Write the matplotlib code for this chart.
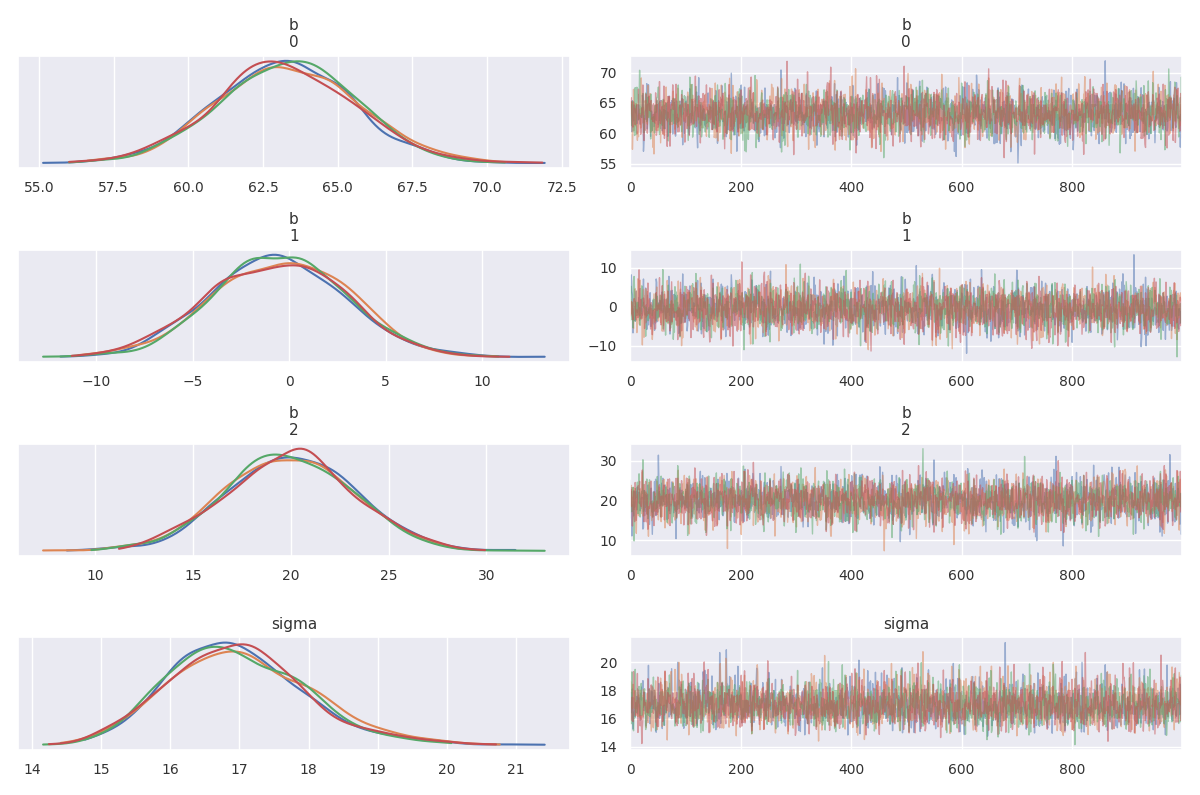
import numpy as np
import matplotlib
matplotlib.use("Agg")
import matplotlib.pyplot as plt
import seaborn as sns
from matplotlib.ticker import MultipleLocator

sns.set_theme(style="darkgrid")
plt.rcParams['font.family'] = ['DejaVu Sans']
plt.rcParams['text.color'] = '#333333'
plt.rcParams['xtick.color'] = '#333333'
plt.rcParams['ytick.color'] = '#333333'

var_titles = ["b\n0", "b\n1", "b\n2", "sigma"]
means = [63.3, -0.5, 20.0, 17.0]
sds = [2.3, 3.5, 3.3, 1.0]
trace_steps = [5, 10, 10, 2]
colors = ["#4c72b0", "#dd8452", "#55a868", "#c44e52"]
n_draws = 1000
n_chains = 4

rng = np.random.default_rng(1)
fig, axes = plt.subplots(4, 2, figsize=(12, 7.95), dpi=100)

def kde(x, grid):
    bw = 1.06 * x.std() * len(x) ** (-0.2)
    d = (grid[:, None] - x[None, :]) / bw
    return np.exp(-0.5 * d ** 2).sum(1) / (len(x) * bw * np.sqrt(2 * np.pi))

for i in range(4):
    axl, axr = axes[i]
    for c in range(n_chains):
        if i == 3:
            s = means[i] - 5 * sds[i] + rng.gamma(25, sds[i] / 5, n_draws)
        else:
            s = rng.normal(means[i], sds[i], n_draws)
        grid = np.linspace(s.min(), s.max(), 300)
        axl.plot(grid, kde(s, grid), color=colors[c], lw=1.5)
        axr.plot(np.arange(n_draws), s, color=colors[c], lw=1, alpha=0.5)
    axl.set_yticks([])
    axl.set_title(var_titles[i], fontsize=11)
    axr.set_title(var_titles[i], fontsize=11)
    axr.set_xlim(0, n_draws - 1)
    axr.set_xticks([0, 200, 400, 600, 800])
    axr.yaxis.set_major_locator(MultipleLocator(trace_steps[i]))
    for ax in (axl, axr):
        ax.tick_params(labelsize=10)

fig.tight_layout(h_pad=1.0)
fig.savefig("out.png")
